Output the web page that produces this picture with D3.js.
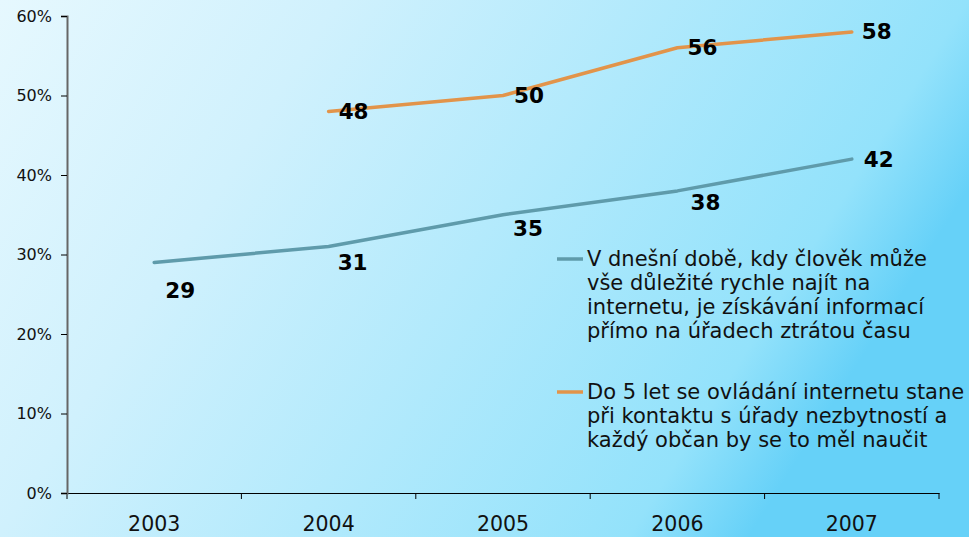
<!DOCTYPE html>
<html>
<head>
<meta charset="utf-8">
<script src="https://cdn.jsdelivr.net/npm/d3@7"></script>
<style>
  body { margin: 0; }
  svg { display: block; font-family: "DejaVu Sans", Verdana, sans-serif; }
</style>
</head>
<body>
<div id="chart"></div>
<script>
const years = ["2003", "2004", "2005", "2006", "2007"]
const legendLines = [
  ["V dnešní době, kdy člověk může", "vše důležité rychle najít na", "internetu, je získávání informací", "přímo na úřadech ztrátou času"],
  ["Do 5 let se ovládání internetu stane", "při kontaktu s úřady nezbytností a", "každý občan by se to měl naučit"]
]
const timeWaste = [29, 31, 35, 38, 42]
const mustLearn = [null, 48, 50, 56, 58]
const yTicks = [0, 10, 20, 30, 40, 50, 60]

const colors = ["#5f9bab", "#e2944a"]
// label offsets (dx, dy) per point, layout only
const labelOffsets = [
  [[26, 28], [24, 16], [25, 14], [28, 12], [27, 0]],
  [[0, 0], [25, 0], [26, 0], [25, 0], [25, 0]]
]

const width = 969
const height = 537
const margin = { top: 16, right: 30, bottom: 44, left: 67 }
const font = "DejaVu Sans, Verdana, sans-serif"

const svg = d3.select("#chart")
  .append("svg")
  .attr("width", width)
  .attr("height", height)

const grad = svg.append("defs").append("linearGradient")
  .attr("id", "bg")
  .attr("x1", 0).attr("y1", 0)
  .attr("x2", 1).attr("y2", 0.35)
grad.selectAll("stop")
  .data([[0, "#e6f8fe"], [0.31, "#d0f1fd"], [0.89, "#93e2fb"], [1, "#66d1f8"]])
  .join("stop")
  .attr("offset", d => d[0])
  .attr("stop-color", d => d[1])

svg.append("rect")
  .attr("width", width)
  .attr("height", height)
  .attr("fill", "url(#bg)")

const xScale = d3.scaleBand()
  .domain(years)
  .range([margin.left, 939])

const yScale = d3.scaleLinear()
  .domain([0, 60])
  .range([493, margin.top])

const xAxis = d3.axisBottom(xScale).tickSize(0).tickPadding(23)
const yAxis = d3.axisLeft(yScale).tickValues(yTicks).tickSize(6).tickPadding(9)
  .tickFormat(d => d + "%")

const gx = svg.append("g")
  .attr("transform", `translate(0 ${yScale(0)})`)
  .call(xAxis)
gx.attr("font-size", 20.5).attr("font-family", font)
gx.select(".domain").attr("stroke", "#000").attr("stroke-width", 1.2)
gx.selectAll("text").attr("fill", "#111")
// category boundary ticks
gx.selectAll(".bound")
  .data(years.concat(["end"]))
  .join("line")
  .attr("class", "bound")
  .attr("x1", (d, i) => margin.left + i * xScale.step())
  .attr("x2", (d, i) => margin.left + i * xScale.step())
  .attr("y1", 0).attr("y2", 6)
  .attr("stroke", "#000")

const gy = svg.append("g")
  .attr("transform", `translate(${margin.left} 0)`)
  .call(yAxis)
gy.attr("font-size", 16).attr("font-family", font)
gy.select(".domain").attr("stroke", "#666").attr("stroke-width", 2)
gy.selectAll("text").attr("fill", "#111")

const cx = d => xScale(d) + xScale.bandwidth() / 2

const line = d3.line()
  .defined(d => d.v != null)
  .x(d => cx(d.year))
  .y(d => yScale(d.v))

const series = [timeWaste, mustLearn].map((vals, s) =>
  vals.map((v, i) => ({ year: years[i], v, s, i })))

svg.selectAll(".series")
  .data(series)
  .join("path")
  .attr("class", "series")
  .attr("d", line)
  .attr("fill", "none")
  .attr("stroke", (d, i) => colors[i])
  .attr("stroke-width", 3.5)
  .attr("stroke-linejoin", "round")
  .attr("stroke-linecap", "round")

svg.selectAll(".lbl")
  .data(series.flat().filter(d => d.v != null))
  .join("text")
  .attr("class", "lbl")
  .attr("x", d => cx(d.year) + labelOffsets[d.s][d.i][0])
  .attr("y", d => yScale(d.v) + labelOffsets[d.s][d.i][1])
  .attr("text-anchor", "middle")
  .attr("dominant-baseline", "central")
  .attr("font-size", 21.5)
  .attr("font-weight", "bold")
  .attr("fill", "#000")
  .text(d => d.v)

// legend
const legendTop = [259, 392]
const legend = svg.selectAll(".legend")
  .data(legendLines)
  .join("g")
  .attr("class", "legend")
  .attr("transform", (d, i) => `translate(557 ${legendTop[i]})`)

legend.append("line")
  .attr("x1", 0).attr("x2", 26)
  .attr("stroke", (d, i) => colors[i])
  .attr("stroke-width", 3.5)

legend.selectAll("text")
  .data(d => d)
  .join("text")
  .attr("x", 30)
  .attr("y", (d, i) => i * 24)
  .attr("dominant-baseline", "central")
  .attr("font-size", 21)
  .attr("fill", "#111")
  .text(d => d)
</script>
</body>
</html>
